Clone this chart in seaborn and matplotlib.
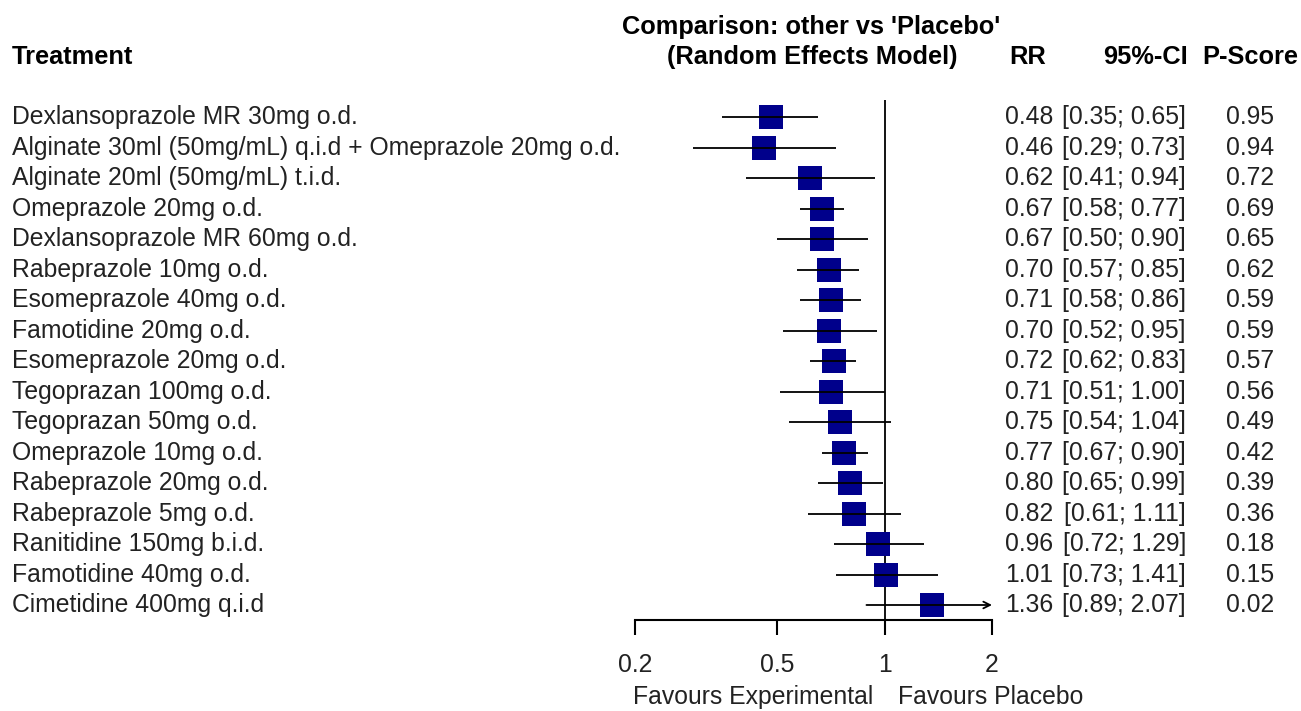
import numpy as np
import pandas as pd
import matplotlib
matplotlib.use('Agg')
import matplotlib.pyplot as plt
import matplotlib.transforms as mtransforms
import seaborn as sns

treatments = [
    'Dexlansoprazole MR 30mg o.d.',
    'Alginate 30ml (50mg/mL) q.i.d + Omeprazole 20mg o.d.',
    'Alginate 20ml (50mg/mL) t.i.d.',
    'Omeprazole 20mg o.d.',
    'Dexlansoprazole MR 60mg o.d.',
    'Rabeprazole 10mg o.d.',
    'Esomeprazole 40mg o.d.',
    'Famotidine 20mg o.d.',
    'Esomeprazole 20mg o.d.',
    'Tegoprazan 100mg o.d.',
    'Tegoprazan 50mg o.d.',
    'Omeprazole 10mg o.d.',
    'Rabeprazole 20mg o.d.',
    'Rabeprazole 5mg o.d.',
    'Ranitidine 150mg b.i.d.',
    'Famotidine 40mg o.d.',
    'Cimetidine 400mg q.i.d',
]
rr = [0.48, 0.46, 0.62, 0.67, 0.67, 0.70, 0.71, 0.70, 0.72, 0.71, 0.75, 0.77, 0.80, 0.82, 0.96, 1.01, 1.36]
ci_low = [0.35, 0.29, 0.41, 0.58, 0.50, 0.57, 0.58, 0.52, 0.62, 0.51, 0.54, 0.67, 0.65, 0.61, 0.72, 0.73, 0.89]
ci_high = [0.65, 0.73, 0.94, 0.77, 0.90, 0.85, 0.86, 0.95, 0.83, 1.00, 1.04, 0.90, 0.99, 1.11, 1.29, 1.41, 2.07]
pscore = [0.95, 0.94, 0.72, 0.69, 0.65, 0.62, 0.59, 0.59, 0.57, 0.56, 0.49, 0.42, 0.39, 0.36, 0.18, 0.15, 0.02]
xticks = [0.2, 0.5, 1, 2]
xlabels = ['0.2', '0.5', '1', '2']

df = pd.DataFrame({'treatment': treatments, 'rr': rr, 'lo': ci_low,
                   'hi': ci_high, 'pscore': pscore})
df['y'] = np.arange(len(df), 0, -1)

sns.set_theme(style='white')
plt.rcParams['font.family'] = ['Liberation Sans', 'DejaVu Sans']

W, H = 1301, 711
fig = plt.figure(figsize=(W / 100, H / 100), dpi=100)

def fx(p):
    return p / W

def fy(p):
    return 1 - p / H

# forest panel: 0.2 at x=635px, 2 at x=992px, rows from y=100 to 620px
ax = fig.add_axes([fx(635), fy(620), fx(992) - fx(635), fy(100) - fy(620)])
ax.set_xscale('log')
ax.set_xlim(0.2, 2)
ax.set_ylim(0.508, 17.56)

sns.scatterplot(data=df, x='rr', y='y', marker='s', s=300, color='#00008B',
                edgecolor='#00008B', linewidth=0, ax=ax, zorder=3, clip_on=False)

for _, r in df.iterrows():
    if r['hi'] > 2:
        ax.annotate('', xy=(2, r['y']), xytext=(r['lo'], r['y']),
                    arrowprops=dict(arrowstyle='->', color='black', lw=1.3,
                                    shrinkA=0, shrinkB=0), zorder=4)
    else:
        ax.hlines(r['y'], r['lo'], r['hi'], color='black', lw=1.3, zorder=4)

ax.axvline(1, color='black', lw=1.3, zorder=2)

fs = 17.8
ax.set_xticks(xticks)
ax.set_xticklabels(xlabels)
ax.minorticks_off()
ax.set_yticks([])
ax.set_xlabel('')
ax.set_ylabel('')
for s in ['top', 'right', 'left']:
    ax.spines[s].set_visible(False)
ax.spines['bottom'].set_linewidth(1.5)
ax.spines['bottom'].set_color('black')
ax.tick_params(axis='x', which='major', bottom=True, length=11, width=1.5,
               direction='out', pad=13, labelsize=fs, colors='black')
for lab in ax.get_xticklabels():
    lab.set_color('#222222')
ax.patch.set_alpha(0)

trans = mtransforms.blended_transform_factory(fig.transFigure, ax.transData)
for _, r in df.iterrows():
    y = r['y']
    fig.text(fx(12), y, r['treatment'], transform=trans, ha='left', va='center',
             fontsize=fs, color='#222222')
    fig.text(fx(1053), y, f"{r['rr']:.2f}", transform=trans, ha='right',
             va='center', fontsize=fs, color='#222222')
    fig.text(fx(1186), y, f"[{r['lo']:.2f}; {r['hi']:.2f}]", transform=trans,
             ha='right', va='center', fontsize=fs, color='#222222')
    fig.text(fx(1274), y, f"{r['pscore']:.2f}", transform=trans, ha='right',
             va='center', fontsize=fs, color='#222222')

# headers
hk = dict(fontsize=18.3, fontweight='bold', va='center', color='black')
fig.text(fx(12), fy(57), 'Treatment', ha='left', **hk)
fig.text(fx(811), fy(27), "Comparison: other vs 'Placebo'", ha='center', **hk)
fig.text(fx(812), fy(57), '(Random Effects Model)', ha='center', **hk)
fig.text(fx(1046), fy(57), 'RR', ha='right', **hk)
fig.text(fx(1188), fy(57), '95%-CI', ha='right', **hk)
fig.text(fx(1298), fy(57), 'P-Score', ha='right', **hk)

fig.text(fx(873), fy(697), 'Favours Experimental', ha='right', va='center',
         fontsize=fs, color='#222222')
fig.text(fx(898), fy(697), 'Favours Placebo', ha='left', va='center',
         fontsize=fs, color='#222222')

fig.savefig('out.png', dpi=100, facecolor='white')
